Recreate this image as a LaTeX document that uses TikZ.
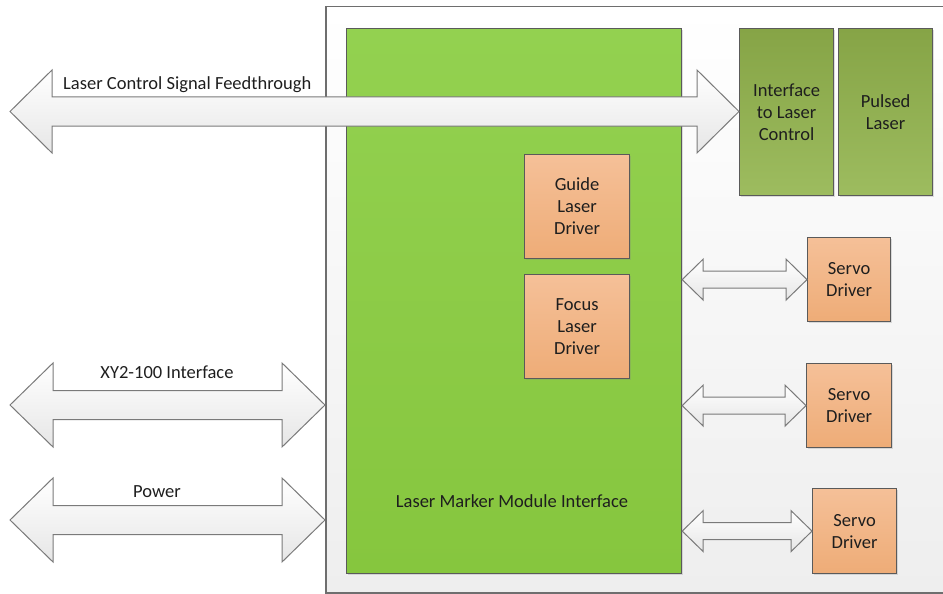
\documentclass[tikz,border=0pt]{standalone}
\usepackage{fontspec}
\setmainfont{Carlito}
\usetikzlibrary{calc,shadows}

\definecolor{frameline}{HTML}{6E6E6E}
\definecolor{boxline}{HTML}{5A5A5A}
\definecolor{greenTop}{HTML}{93D150}
\definecolor{greenBot}{HTML}{86C63E}
\definecolor{oliveTop}{HTML}{86A446}
\definecolor{oliveBot}{HTML}{9DBC5F}
\definecolor{orangeTop}{HTML}{F5C098}
\definecolor{orangeBot}{HTML}{EEAC77}
\definecolor{panelBot}{HTML}{EEEEEE}
\definecolor{arrowBot}{HTML}{E6E6E6}
\definecolor{arrowLine}{HTML}{7A7A7A}
\definecolor{txt}{HTML}{1E1E1E}

\tikzset{
  basebox/.style={draw=boxline, line width=1.2pt, anchor=north west,
    inner sep=0pt, align=center, text=txt, font=\fontsize{18.5}{22}\selectfont,
    drop shadow={opacity=0.25, shadow xshift=1.6pt, shadow yshift=-1.6pt}},
  modulebox/.style={basebox, top color=greenTop, bottom color=greenBot},
  laserbox/.style={basebox, top color=oliveTop, bottom color=oliveBot},
  driverbox/.style={basebox, top color=orangeTop, bottom color=orangeBot},
  panel/.style={draw=frameline, line width=1.5pt, anchor=north west,
    top color=white, bottom color=panelBot, inner sep=0pt},
  blockarrow/.style={draw=arrowLine, line width=1pt, line join=miter,
    top color=white, bottom color=arrowBot},
  lbl/.style={text=txt, font=\fontsize{18.5}{22}\selectfont, inner sep=0pt}
}

% horizontal block arrow with a head at each end:
% #1 left tip, #2 right tip, #3 head length, #4 head half-height, #5 shaft half-height
\newcommand\hdblarrow[5]{%
  \path[blockarrow] let \p1=(#1), \p2=(#2) in
    (\x1,\y1) -- (\x1+#3,\y1+#4) -- (\x1+#3,\y1+#5) -- (\x2-#3,\y1+#5)
    -- (\x2-#3,\y1+#4) -- (\x2,\y1) -- (\x2-#3,\y1-#4) -- (\x2-#3,\y1-#5)
    -- (\x1+#3,\y1-#5) -- (\x1+#3,\y1-#4) -- cycle;}

\begin{document}
\begin{tikzpicture}[x=1pt,y=-1pt]
  \useasboundingbox (0,0) rectangle (943,594);
  \clip (0,0) rectangle (943,594);

  % enclosure
  \node[panel, minimum width=640pt, minimum height=586pt] (outer) at (325,6) {};

  % main module
  \node[modulebox, minimum width=335pt, minimum height=545pt] (module) at (346,28) {};
  \node[lbl, anchor=base] (modlabel) at (512,507) {Laser Marker Module Interface};

  % laser side
  \node[laserbox, minimum width=94pt, minimum height=167pt] (iface) at (739,28)
    {Interface\\to Laser\\Control};
  \node[laserbox, minimum width=94pt, minimum height=167pt] (pulsed) at (838,28)
    {Pulsed\\Laser};

  % drivers inside the module
  \node[driverbox, minimum width=105pt, minimum height=104pt] (guide) at (524,154)
    {Guide\\Laser\\Driver};
  \node[driverbox, minimum width=105pt, minimum height=104pt] (focus) at (524,274)
    {Focus\\Laser\\Driver};

  % servo drivers
  \node[driverbox, minimum width=83pt, minimum height=84pt] (servoA) at (807,237)
    {Servo\\Driver};
  \node[driverbox, minimum width=85pt, minimum height=84pt] (servoB) at (806,363)
    {Servo\\Driver};
  \node[driverbox, minimum width=84pt, minimum height=85pt] (servoC) at (812,488)
    {Servo\\Driver};

  % external connections
  \coordinate (feedL) at (10,111.5);
  \coordinate (xyL) at (10,405);
  \coordinate (pwrL) at (10,520);
  \hdblarrow{feedL}{iface.west}{42pt}{41.5pt}{14.5pt}
  \hdblarrow{xyL}{outer.west |- xyL}{43pt}{42pt}{14.5pt}
  \hdblarrow{pwrL}{outer.west |- pwrL}{43pt}{42pt}{14.5pt}

  % servo links
  \hdblarrow{module.east |- servoA.west}{servoA.west}{21pt}{20.5pt}{8.5pt}
  \hdblarrow{module.east |- servoB.west}{servoB.west}{21pt}{20.5pt}{8.5pt}
  \hdblarrow{module.east |- servoC.west}{servoC.west}{21pt}{20.5pt}{8.5pt}

  % connection labels
  \node[lbl, anchor=base west] (feedlabel) at (63,90) {Laser Control Signal Feedthrough};
  \node[lbl, anchor=base] (xylabel) at (167,378) {XY2-100 Interface};
  \node[lbl, anchor=base] (pwrlabel) at (157,497.5) {Power};
\end{tikzpicture}
\end{document}
